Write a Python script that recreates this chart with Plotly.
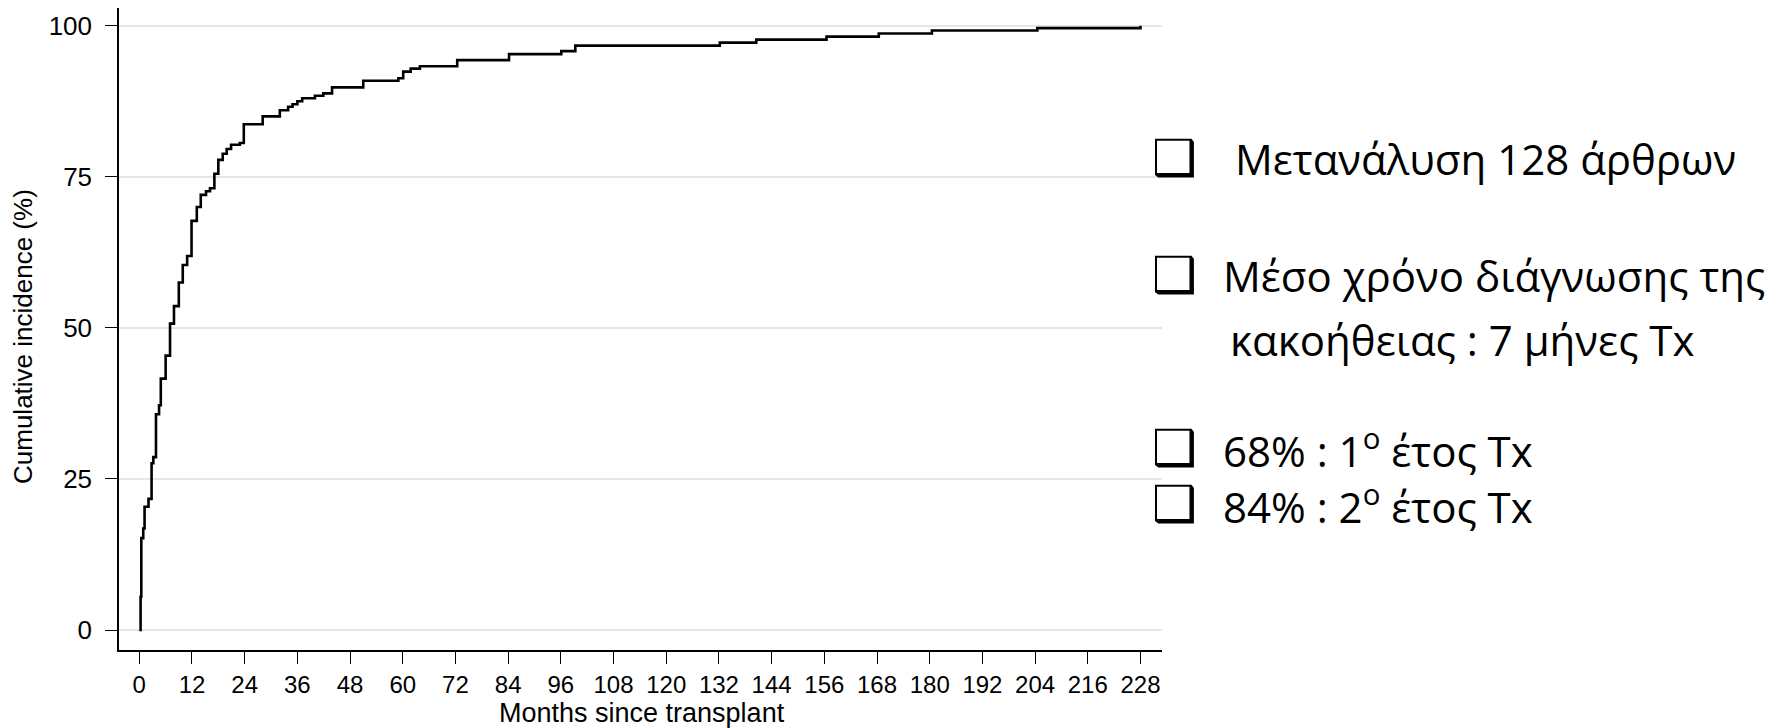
import plotly.graph_objects as go

# cumulative incidence step curve
months = [0, 0.3, 0.46, 0.9, 1.2, 2.1, 2.8, 3.2, 3.8, 4.5, 4.9, 6.0, 7.0, 7.9,
          9.0, 9.9, 10.9, 11.9, 13.1, 14.0, 15.2, 16.1, 17.1, 18.0, 19.0, 19.9,
          20.9, 22.9, 23.8, 28.1, 32.0, 33.9, 34.9, 36.0, 37.1, 40.0, 41.9,
          43.9, 51.0, 59.0, 60.1, 61.8, 63.9, 72.4, 84.2, 96.1, 99.3, 132.2,
          140.5, 156.5, 168.4, 180.5, 204.5, 228.0]
incidence = [0, 5.5, 15.2, 16.8, 20.4, 21.7, 27.6, 28.6, 35.7, 37.2, 41.6, 45.4,
             50.7, 53.6, 57.5, 60.4, 61.9, 67.7, 70.0, 72.0, 72.6, 73.1, 75.5,
             77.8, 78.8, 79.6, 80.3, 80.6, 83.7, 85.0, 86.0, 86.6, 87.0, 87.5,
             88.0, 88.4, 88.8, 89.8, 90.9, 91.3, 92.4, 92.9, 93.3, 94.3, 95.3,
             95.8, 96.7, 97.2, 97.7, 98.2, 98.7, 99.2, 99.6, 100.0]

x_ticks = list(range(0, 229, 12))
y_ticks = [0, 25, 50, 75, 100]

# text, has checkbox, left edge of text (page px), vertical centre (page px)
notes = [
    ("Μετανάλυση 128 άρθρων", True, 1233, 158),
    ("Μέσο χρόνο διάγνωσης της", True, 1221, 275),
    ("κακοήθειας : 7 μήνες Tx", False, 1228, 339),
    ("68% : 1<sup>ο</sup> έτος Tx", True, 1221, 448),
    ("84% : 2<sup>ο</sup> έτος Tx", True, 1221, 504),
]

# page has an 8px body margin around the plot div
OFF = 8
W, H = 1783 - OFF, 728 - OFF
L, R, T, B = 111, 1154, 0, 642


def px(X):
    return (X - OFF - L) / (R - L)


def py(Y):
    return (B - (Y - OFF)) / (B - T)


fig = go.Figure()
fig.add_trace(go.Scatter(x=months, y=incidence, mode="lines",
                         line=dict(color="black", width=2.6, shape="hv"),
                         hoverinfo="skip", showlegend=False))

axis_font = dict(family="Liberation Sans, Arial, sans-serif", color="black")

fig.update_xaxes(range=[-4.62, 232.9], tickmode="array", tickvals=x_ticks,
                 ticks="outside", ticklen=12, tickwidth=1.3, tickcolor="black",
                 showline=True, linecolor="black", linewidth=1.5,
                 showgrid=False, zeroline=False, automargin=False,
                 tickfont=dict(size=24, **axis_font))
fig.update_yaxes(range=[-3.31, 102.93], tickmode="array", tickvals=y_ticks,
                 ticks="outside", ticklen=12, tickwidth=1.3, tickcolor="black",
                 showline=True, linecolor="black", linewidth=1.5,
                 showgrid=True, gridcolor="#e6e6e6", gridwidth=1.6,
                 zeroline=False, ticklabelstandoff=8, automargin=False,
                 tickfont=dict(size=26, **axis_font))

# axis titles
fig.add_annotation(x=px(642), y=py(713), xref="paper", yref="paper",
                   text="Months since transplant", showarrow=False,
                   xanchor="center", yanchor="middle",
                   font=dict(size=27, **axis_font))
fig.add_annotation(x=px(23), y=py(337), xref="paper", yref="paper",
                   text="Cumulative incidence (%)", showarrow=False,
                   textangle=-90, xanchor="center", yanchor="middle",
                   font=dict(size=26, **axis_font))

text_font = dict(family="Open Sans, Noto Sans, sans-serif", size=42, color="black")
for txt, box, x0, yc in notes:
    if box:
        fig.add_annotation(x=px(1150), y=py(yc), xref="paper", yref="paper",
                           text="\u2751", showarrow=False, xanchor="left",
                           yanchor="middle",
                           font=dict(family="DejaVu Sans", size=50, color="black"))
    fig.add_annotation(x=px(x0), y=py(yc), xref="paper", yref="paper",
                       text=txt, showarrow=False, xanchor="left", yanchor="middle",
                       font=text_font)

fig.update_layout(width=W, height=H,
                  margin=dict(l=L, r=W - R, t=T, b=H - B),
                  plot_bgcolor="white", paper_bgcolor="white")

fig.write_html("out.html")
